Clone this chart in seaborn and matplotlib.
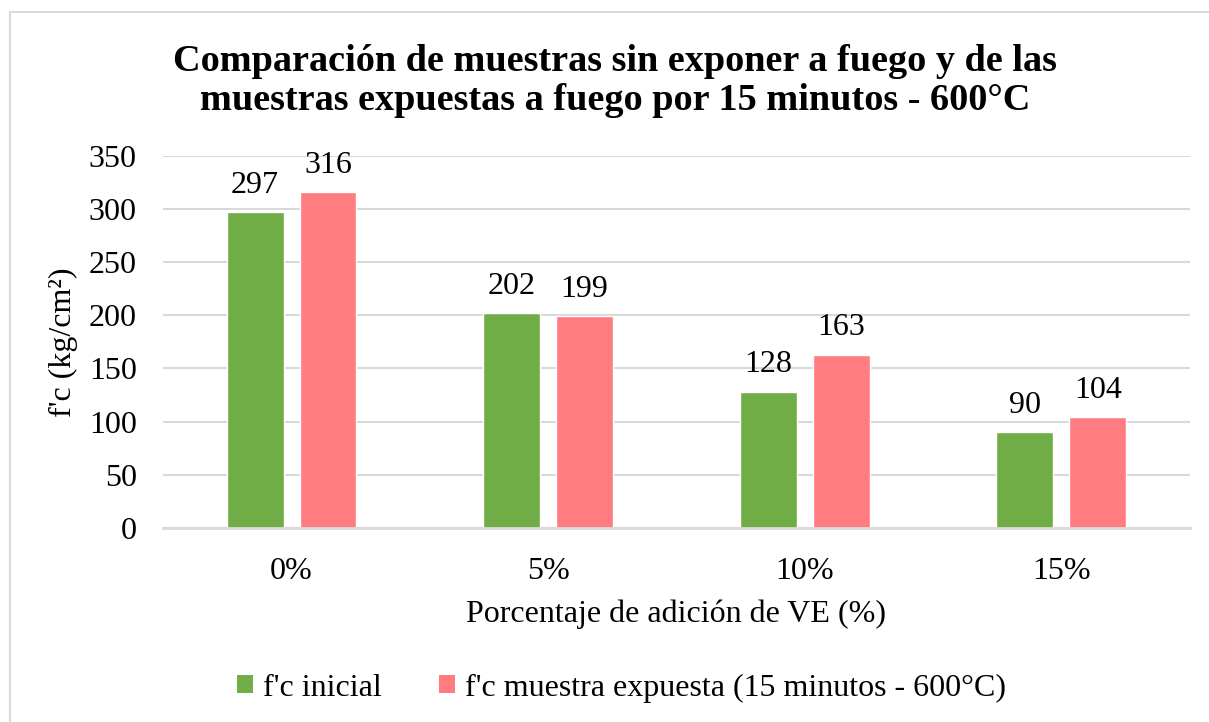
import pandas as pd
import matplotlib.pyplot as plt
import seaborn as sns
from matplotlib.patches import Patch

# Datos
categorias = ["0%", "5%", "10%", "15%"]
series = ["f'c inicial", "f'c muestra expuesta (15 minutos - 600°C)"]
fc_inicial = [297, 202, 128, 90]
fc_expuesta = [316, 199, 163, 104]
colores = ["#70AD47", "#FF7C80"]

df = pd.DataFrame({
    "Porcentaje": categorias * 2,
    "fc": fc_inicial + fc_expuesta,
    "Serie": [series[0]] * 4 + [series[1]] * 4,
})

sns.set_theme(style="white")
plt.rcParams["font.family"] = "serif"
plt.rcParams["font.serif"] = ["Liberation Serif", "DejaVu Serif"]
plt.rcParams["text.color"] = "black"
plt.rcParams["axes.labelcolor"] = "black"

fig = plt.figure(figsize=(12.09, 7.22), dpi=100)
ax = fig.add_axes([0.135, 0.269, 0.849, 0.515])

sns.barplot(data=df, x="Porcentaje", y="fc", hue="Serie", palette=colores,
            order=categorias, hue_order=series, width=0.568, gap=0.22,
            saturation=1, ax=ax, legend=False)

# Etiquetas de valor sobre cada barra
for cont in ax.containers:
    ax.bar_label(cont, fmt="%d", padding=9, fontsize=23, color="black")

ax.set_ylim(0, 350)
ax.set_yticks(range(0, 351, 50))
ax.yaxis.grid(True, color="#D9D9D9", linewidth=1.5)
ax.set_axisbelow(True)
for s in ["top", "right", "left"]:
    ax.spines[s].set_visible(False)
ax.spines["bottom"].set_color("#D9D9D9")
ax.spines["bottom"].set_linewidth(2)
ax.tick_params(axis="both", length=0, labelsize=23, colors="black")
ax.tick_params(axis="x", pad=21)
ax.tick_params(axis="y", pad=19)

ax.set_xlabel("Porcentaje de adición de VE (%)", fontsize=23, labelpad=10)
ax.set_ylabel("f'c (kg/cm²)", fontsize=23, labelpad=8)

fig.text(0.509, 0.888, "Comparación de muestras sin exponer a fuego y de las\n"
         "muestras expuestas a fuego por 15 minutos - 600°C",
         ha="center", va="center", fontsize=27.5, fontweight="bold", linespacing=1.15)

# Leyenda inferior
handles = [Patch(facecolor=c, edgecolor="none") for c in colores]
fig.legend(handles, series, loc="center", bbox_to_anchor=(0.514, 0.047), ncol=2,
           frameon=False, fontsize=23, handlelength=0.5, handleheight=0.5,
           handletextpad=0.3, columnspacing=1.8)

# Marco gris del área del gráfico
fig.add_artist(plt.Line2D([10 / 1209, 10 / 1209], [0, 1 - 12 / 722],
                          transform=fig.transFigure, color="#D9D9D9", linewidth=1.5))
fig.add_artist(plt.Line2D([10 / 1209, 1], [1 - 12 / 722, 1 - 12 / 722],
                          transform=fig.transFigure, color="#D9D9D9", linewidth=1.5))

fig.savefig("out.png", dpi=100, facecolor="white")
